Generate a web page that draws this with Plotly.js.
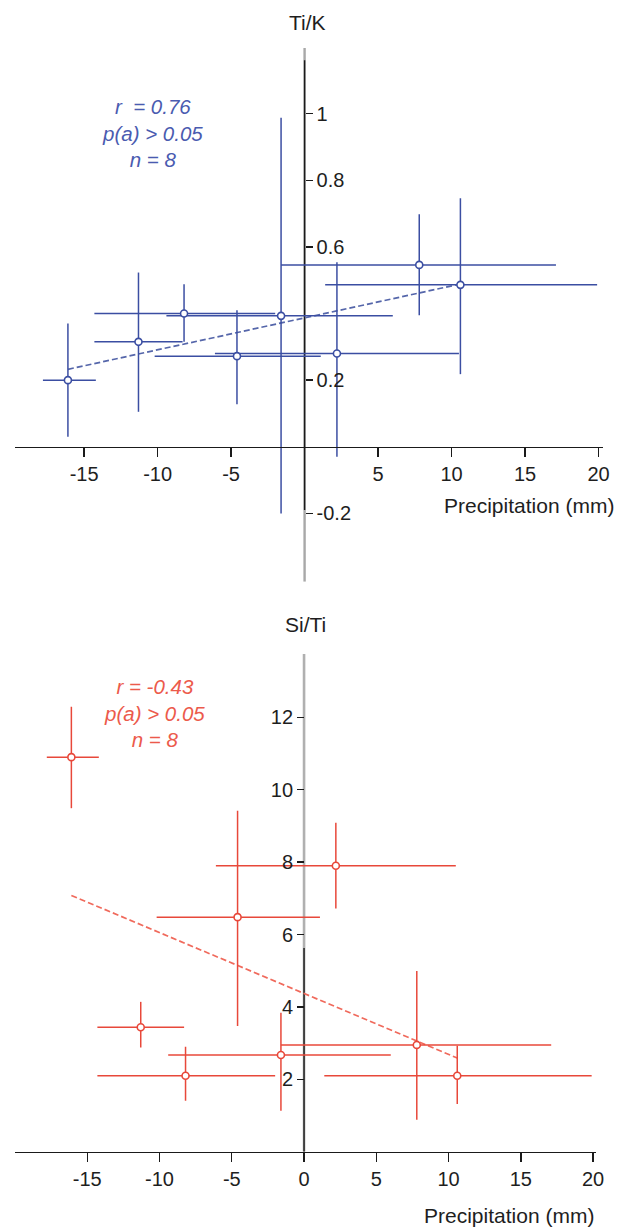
<!DOCTYPE html>
<html><head><meta charset="utf-8">
<script src="https://cdn.plot.ly/plotly-3.0.1.min.js"></script>
<style>html,body{margin:0;padding:0;background:#fff;} #chart{width:618px;height:1230px;}</style>
</head><body><div id="chart"></div>
<script>
// ---- data ----
const precipitation = [-16.1, -11.3, -8.2, -1.6, -4.6, 2.2, 7.8, 10.6];
const precipLow     = [-17.8, -14.3, -14.3, -9.4, -10.2, -6.1, -1.6, 1.4];
const precipHigh    = [-14.2, -8.3, -2.0, 6.0, 1.1, 10.5, 17.1, 19.9];

const tiK     = [0.20, 0.315, 0.40, 0.393, 0.272, 0.28, 0.546, 0.486];
const tiKLow  = [0.03, 0.105, 0.315, -0.20, 0.128, -0.03, 0.395, 0.218];
const tiKHigh = [0.37, 0.523, 0.488, 0.988, 0.41, 0.554, 0.698, 0.746];

const siTi     = [10.9, 3.44, 2.10, 2.67, 6.48, 7.90, 2.95, 2.10];
const siTiLow  = [9.49, 2.88, 1.41, 1.13, 3.47, 6.72, 0.88, 1.32];
const siTiHigh = [12.29, 4.14, 2.90, 3.84, 9.42, 9.09, 4.99, 2.93];

const xTickValsTop   = [-15, -10, -5, 5, 10, 15, 20];
const xTickTextTop   = ['-15', '-10', '-5', '5', '10', '15', '20'];
const xTickValsBot   = [-15, -10, -5, 0, 5, 10, 15, 20];
const xTickTextBot   = ['-15', '-10', '-5', '0', '5', '10', '15', '20'];
const yTickValsTiK   = [-0.2, 0.2, 0.6, 0.8, 1];
const yTickTextTiK   = ['-0.2', '0.2', '0.6', '0.8', '1'];
const yTickValsSiTi  = [2, 4, 6, 8, 10, 12];

const statsTiK  = ['r\u00a0 = 0.76', 'p(a) > 0.05', 'n = 8'];
const statsSiTi = ['r = -0.43', 'p(a) > 0.05', 'n = 8'];

// ---- styles ----
const BLUE = '#3b4ea2', BLUE_TXT = '#4a5bb0', BLUE_DASH = '#5566aa';
const RED = '#e8483a', RED_TXT = '#ec5a4b', RED_DASH = '#f06a5c';
const FONT = 'Liberation Sans, Arial, sans-serif';
const W = 618, H = 1230;

function diff(a, b) { return a.map((v, i) => Math.abs(v - b[i])); }
function regression(xs, ys) {
  const n = xs.length;
  const mx = xs.reduce((s, v) => s + v, 0) / n;
  const my = ys.reduce((s, v) => s + v, 0) / n;
  let sxy = 0, sxx = 0;
  for (let i = 0; i < n; i++) { sxy += (xs[i] - mx) * (ys[i] - my); sxx += (xs[i] - mx) ** 2; }
  const slope = sxy / sxx, icpt = my - slope * mx;
  const x0 = Math.min(...xs), x1 = Math.max(...xs);
  return { x: [x0, x1], y: [icpt + slope * x0, icpt + slope * x1] };
}

function pointsTrace(ys, lo, hi, color, xa, ya) {
  return {
    type: 'scatter', mode: 'markers', x: precipitation, y: ys, xaxis: xa, yaxis: ya,
    error_x: { type: 'data', symmetric: false, array: diff(precipHigh, precipitation),
               arrayminus: diff(precipitation, precipLow), color: color, thickness: 1.5, width: 0 },
    error_y: { type: 'data', symmetric: false, array: diff(hi, ys),
               arrayminus: diff(ys, lo), color: color, thickness: 1.5, width: 0 },
    marker: { symbol: 'circle', size: 7, color: '#ffffff', line: { color: color, width: 1.6 } },
    hoverinfo: 'skip', showlegend: false, cliponaxis: false
  };
}
function fitTrace(ys, color, xa, ya) {
  const r = regression(precipitation, ys);
  return { type: 'scatter', mode: 'lines', x: r.x, y: r.y, xaxis: xa, yaxis: ya,
           line: { color: color, width: 1.7, dash: '6px,3px' }, hoverinfo: 'skip', showlegend: false };
}

// ---- geometry ----
const topX = { dom: [15 / W, 603 / W], rng: [-19.7, 20.3] };
const topY = { dom: [1 - 581.7 / H, 1 - 48 / H], rng: [-0.405, 1.197] };
const botX = { dom: [15 / W, 596 / W], rng: [-20, 20.2] };
const botY = { dom: [1 - 1151.7 / H, 1 - 654 / H], rng: [0, 13.75] };
function zeroPos(ax) { return ax.dom[0] + (0 - ax.rng[0]) / (ax.rng[1] - ax.rng[0]) * (ax.dom[1] - ax.dom[0]); }

const tickFont = { family: FONT, size: 20, color: '#1e1e1e' };

const data = [
  fitTrace(tiK, BLUE_DASH, 'x', 'y'),
  pointsTrace(tiK, tiKLow, tiKHigh, BLUE, 'x', 'y'),
  fitTrace(siTi, RED_DASH, 'x2', 'y2'),
  pointsTrace(siTi, siTiLow, siTiHigh, RED, 'x2', 'y2')
];

const layout = {
  width: W, height: H, margin: { l: 0, r: 0, t: 0, b: 0 },
  paper_bgcolor: '#fff', plot_bgcolor: 'rgba(0,0,0,0)', showlegend: false,
  xaxis: { domain: topX.dom, range: topX.rng, anchor: 'free', position: zeroPos(topY),
           showgrid: false, zeroline: false, showline: true, linecolor: '#1a1a1a', linewidth: 1.4,
           ticks: 'outside', ticklen: 9, tickwidth: 1.4, tickcolor: '#1a1a1a',
           tickvals: xTickValsTop, ticktext: xTickTextTop, tickfont: tickFont },
  yaxis: { domain: topY.dom, range: topY.rng, anchor: 'free', position: zeroPos(topX), side: 'right',
           showgrid: false, zeroline: false, showline: false,
           ticks: 'outside', ticklen: 7, tickwidth: 1.4, tickcolor: '#1a1a1a',
           tickvals: yTickValsTiK, ticktext: yTickTextTiK, tickfont: tickFont },
  xaxis2: { domain: botX.dom, range: botX.rng, anchor: 'y2',
            showgrid: false, zeroline: false, showline: true, linecolor: '#1a1a1a', linewidth: 1.4,
            ticks: 'outside', ticklen: 9, tickwidth: 1.4, tickcolor: '#1a1a1a',
            tickvals: xTickValsBot, ticktext: xTickTextBot, tickfont: tickFont },
  yaxis2: { domain: botY.dom, range: botY.rng, anchor: 'free', position: zeroPos(botX), side: 'left',
            showgrid: false, zeroline: false, showline: false,
            ticks: 'outside', ticklen: 7, tickwidth: 1.4, tickcolor: '#1a1a1a',
            tickvals: yTickValsSiTi, tickfont: tickFont },
  shapes: [
    { type: 'line', xref: 'x', yref: 'y', x0: 0, x1: 0, y0: topY.rng[0], y1: topY.rng[1], layer: 'below',
      line: { color: '#a8a8a8', width: 2.4 } },
    { type: 'line', xref: 'x', yref: 'y', x0: 0, x1: 0, y0: -0.19, y1: 1.16, layer: 'below',
      line: { color: '#1a1a1a', width: 1.4 } },
    { type: 'line', xref: 'x2', yref: 'y2', x0: 0, x1: 0, y0: botY.rng[0], y1: botY.rng[1], layer: 'below',
      line: { color: '#b0b0b0', width: 2.6 } },
    { type: 'line', xref: 'x2', yref: 'y2', x0: 0, x1: 0, y0: 0, y1: 5.63, layer: 'below',
      line: { color: '#1a1a1a', width: 1.4 } }
  ],
  annotations: [
    { text: 'Ti/K', xref: 'paper', yref: 'paper', x: 307 / W, y: 1 - 22 / H, xanchor: 'center', yanchor: 'middle',
      showarrow: false, font: { family: FONT, size: 21, color: '#1e1e1e' } },
    { text: 'Si/Ti', xref: 'paper', yref: 'paper', x: 305 / W, y: 1 - 624 / H, xanchor: 'center', yanchor: 'middle',
      showarrow: false, font: { family: FONT, size: 21, color: '#1e1e1e' } },
    { text: 'Precipitation (mm)', xref: 'paper', yref: 'paper', x: 616 / W, y: 1 - 505 / H, xanchor: 'right', yanchor: 'middle',
      showarrow: false, font: { family: FONT, size: 21, color: '#1e1e1e' } },
    { text: 'Precipitation (mm)', xref: 'paper', yref: 'paper', x: 596 / W, y: 1 - 1215 / H, xanchor: 'right', yanchor: 'middle',
      showarrow: false, font: { family: FONT, size: 21, color: '#1e1e1e' } },
    { text: statsTiK.map(s => '<i>' + s + '</i>').join('<br>'), xref: 'paper', yref: 'paper',
      x: 152 / W, y: 1 - 133 / H, xanchor: 'center', yanchor: 'middle', align: 'center',
      showarrow: false, font: { family: FONT, size: 20.5, color: BLUE_TXT } },
    { text: statsSiTi.map(s => '<i>' + s + '</i>').join('<br>'), xref: 'paper', yref: 'paper',
      x: 154 / W, y: 1 - 713 / H, xanchor: 'center', yanchor: 'middle', align: 'center',
      showarrow: false, font: { family: FONT, size: 20.5, color: RED_TXT } }
  ]
};

Plotly.newPlot('chart', data, layout, { staticPlot: true, displayModeBar: false });
</script>
</body></html>
